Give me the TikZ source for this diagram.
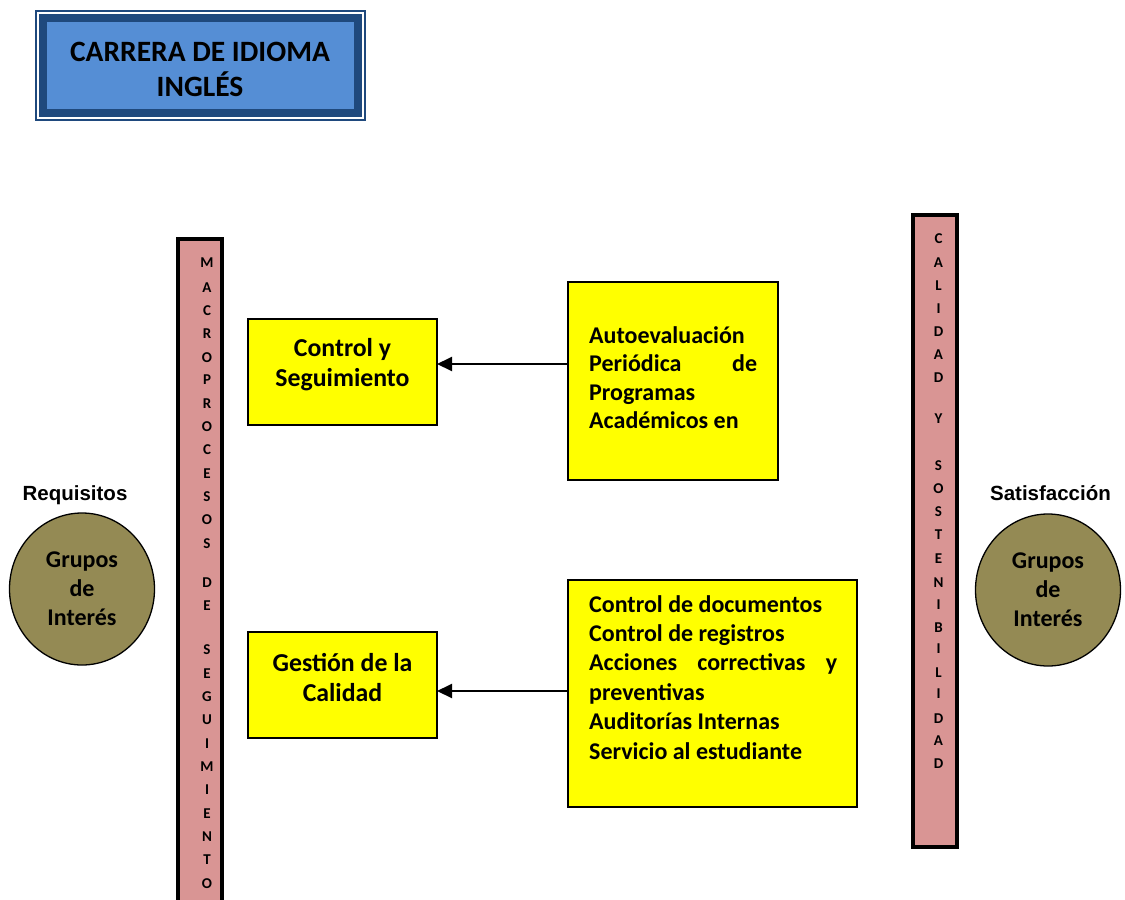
\documentclass[tikz,border=0pt]{standalone}
\usepackage{fontspec}
\setmainfont{Carlito}
\newfontfamily\arialf{Liberation Sans}
\usetikzlibrary{shapes.geometric,arrows.meta}
\definecolor{titlefill}{HTML}{558ED5}
\definecolor{darkblue}{HTML}{1F497D}
\definecolor{barpink}{HTML}{D99594}
\definecolor{olivec}{HTML}{948A54}
\definecolor{pureyellow}{HTML}{FFFF00}
\newcommand{\fsz}[2]{\fontsize{#1}{#2}\selectfont}
\begin{document}
\begin{tikzpicture}[x=1pt,y=-1pt,
  yellowbox/.style={draw=black, line width=1.3pt, fill=pureyellow, inner sep=0pt, outer sep=0pt, anchor=north west},
  barbox/.style={draw=black, line width=4.5pt, fill=barpink, inner sep=0pt, outer sep=0pt, anchor=north west, minimum width=44pt},
  letter/.style={font=\bfseries\fsz{15}{18}, inner sep=0pt, anchor=base},
  grupo/.style={ellipse, draw=black, line width=1.3pt, fill=olivec, minimum width=145pt, minimum height=152pt, inner sep=0pt, align=center, font=\bfseries\fsz{24}{29}},
  boxtext/.style={align=center, font=\bfseries\fsz{25.8}{30}, inner sep=0pt},
  listtext/.style={align=justify, font=\bfseries\fsz{24}{28.6}, inner sep=0pt, anchor=north west},
  sidelabel/.style={font=\arialf\bfseries\fsz{20.5}{22}, inner sep=0pt, anchor=base},
  arr/.style={line width=2pt, -{Triangle[length=15pt,width=14pt]}}
]
\useasboundingbox (0,0) rectangle (1125,900);
\clip (0,0) rectangle (1125,900);
\fill[white] (0,0) rectangle (1125,900);

% title
\draw[darkblue, line width=1.2pt] (36,11) rectangle (365,120);
\node[draw=darkblue, line width=8pt, fill=titlefill, minimum width=315pt, minimum height=95pt, inner sep=0pt, outer sep=0pt] (titlebox) at (200.5,65.5) {};
\node[align=center, font=\bfseries\fsz{29.5}{35}, inner sep=0pt] (titletext) at (200,69) {CARRERA DE IDIOMA\\INGLÉS};

% bars
\node[barbox, minimum height=690pt] (lbar) at (178,239) {};
\node[barbox, minimum height=632pt] (rbar) at (913,215) {};
\foreach \l/\y [count=\i] in {M/262,A/287,C/310,R/333,O/357,P/379,R/403,O/426,C/449,E/473,S/496,O/519,S/543,D/582,E/605,S/649,E/673,G/696,U/719,I/743,M/766,I/789,E/813,N/836,T/859,O/883}
  \node[letter] (ml\i) at (207,\y+5.5) {\l};
\foreach \l/\y [count=\i] in {C/238,A/262,L/285,I/308,D/331,A/354,D/377,Y/418,S/465,O/488,S/511,T/534,E/558,N/582,I/604,B/627,I/648,L/672,I/693,D/718,A/740,D/763}
  \node[letter] (mr\i) at (938.5,\y+5.5) {\l};

% circles
\node[grupo] (gl) at (82,589) {Grupos\\de\\Interés};
\node[grupo] (gr) at (1048,590) {Grupos\\de\\Interés};
\node[sidelabel] (req) at (75,500.5) {Requisitos};
\node[sidelabel] (sat) at (1050.5,500.5) {Satisfacción};

% left yellow boxes
\node[yellowbox, minimum width=189pt, minimum height=106pt] (cs) at (248,319) {};
\node[boxtext] (cst) at (342.5,365) {Control y\\Seguimiento};
\node[yellowbox, minimum width=189pt, minimum height=106pt] (gc) at (248,632) {};
\node[boxtext] (gct) at (342.5,678) {Gestión de la\\Calidad};

% right yellow boxes
\node[yellowbox, minimum width=210pt, minimum height=198pt] (auto) at (568,282) {};
\node[listtext, text width=168pt] (autot) at (589,326) {Autoevaluación\\
Periódica\hfill de\\
Programas\\
Académicos en};
\node[yellowbox, minimum width=289pt, minimum height=227pt] (ctrl) at (568,580) {};
\node[listtext, text width=248pt, font=\bfseries\fsz{24}{29.4}] (ctrlt) at (589,595) {Control de documentos\\
Control de registros\\
Acciones\hfill correctivas\hfill y\\
preventivas\\
Auditorías Internas\\
Servicio al estudiante};

% arrows
\draw[arr] (auto.west |- 0,364) -- (cs.east |- 0,364);
\draw[arr] (ctrl.west |- 0,691) -- (gc.east |- 0,691);
\end{tikzpicture}
\end{document}
